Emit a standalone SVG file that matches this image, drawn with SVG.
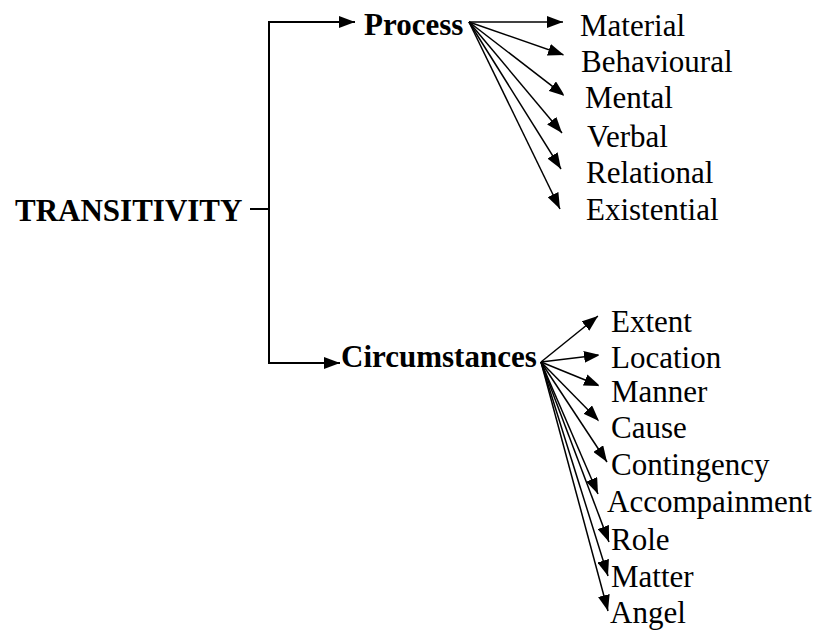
<svg xmlns="http://www.w3.org/2000/svg" width="818" height="635" viewBox="0 0 818 635">
  <style>
    .b { font-family: 'Liberation Serif', 'DejaVu Serif', serif; font-weight: bold; font-size: 31px; fill: #000; }
    .r { font-family: 'Liberation Serif', 'DejaVu Serif', serif; font-size: 31px; fill: #000; }
    .main { fill: none; stroke: #000; stroke-width: 2; }
    .fan { fill: none; stroke: #000; stroke-width: 1.5; marker-end: url(#ah); }
  </style>
  <defs>
    <marker id="ah" markerUnits="userSpaceOnUse" markerWidth="16" markerHeight="12" refX="16" refY="6" orient="auto">
      <path d="M0,0 L16,6 L0,12 z" fill="#000"/>
    </marker>
    <clipPath id="cP"><rect x="0" y="0" width="563.5" height="635"/></clipPath>
    <clipPath id="cC1"><rect x="0" y="0" width="598.5" height="635"/></clipPath>
    <clipPath id="cC2"><rect x="0" y="0" width="609.5" height="635"/></clipPath>
    <clipPath id="cC3"><rect x="0" y="0" width="600.5" height="635"/></clipPath>
    <clipPath id="cC4"><rect x="0" y="0" width="612.5" height="635"/></clipPath>
  </defs>

  <g id="connectors">
    <path class="main" d="M250,209 H269 M269,22 V363"/>
    <line class="main" x1="268" y1="22" x2="355" y2="22" marker-end="url(#ah)"/>
    <line class="main" x1="268" y1="363" x2="340" y2="363" marker-end="url(#ah)"/>
    <g clip-path="url(#cP)">
      <line class="fan" x1="469" y1="22" x2="563" y2="22"/>
      <line class="fan" x1="469" y1="22" x2="564" y2="55"/>
      <line class="fan" x1="469" y1="22" x2="565" y2="96"/>
      <line class="fan" x1="469" y1="22" x2="562" y2="133"/>
      <line class="fan" x1="469" y1="22" x2="561" y2="169"/>
      <line class="fan" x1="469" y1="22" x2="560" y2="209"/>
    </g>
    <g clip-path="url(#cC1)">
      <line class="fan" x1="541" y1="362" x2="598" y2="316"/>
      <line class="fan" x1="541" y1="362" x2="600" y2="355"/>
      <line class="fan" x1="541" y1="362" x2="600" y2="386"/>
      <line class="fan" x1="541" y1="362" x2="599" y2="421"/>
    </g>
    <g clip-path="url(#cC2)">
      <line class="fan" x1="541" y1="362" x2="607" y2="462"/>
    </g>
    <g clip-path="url(#cC3)">
      <line class="fan" x1="541" y1="362" x2="598" y2="494"/>
    </g>
    <g clip-path="url(#cC4)">
      <line class="fan" x1="541" y1="362" x2="609" y2="542"/>
      <line class="fan" x1="541" y1="362" x2="608" y2="576"/>
      <line class="fan" x1="541" y1="362" x2="608" y2="611"/>
    </g>
  </g>

  <g id="transitivity"><text class="b" x="15" y="221">TRANSITIVITY</text></g>
  <g id="process"><text class="b" x="364" y="35">Process</text></g>
  <g id="circumstances"><text class="b" x="341" y="367">Circumstances</text></g>

  <g id="material"><text class="r" x="580" y="36">Material</text></g>
  <g id="behavioural"><text class="r" x="581" y="72">Behavioural</text></g>
  <g id="mental"><text class="r" x="585" y="108">Mental</text></g>
  <g id="verbal"><text class="r" x="587" y="147">Verbal</text></g>
  <g id="relational"><text class="r" x="586" y="183">Relational</text></g>
  <g id="existential"><text class="r" x="586" y="220">Existential</text></g>

  <g id="extent"><text class="r" x="611" y="332">Extent</text></g>
  <g id="location"><text class="r" x="611" y="368">Location</text></g>
  <g id="manner"><text class="r" x="611" y="402">Manner</text></g>
  <g id="cause"><text class="r" x="611" y="438">Cause</text></g>
  <g id="contingency"><text class="r" x="611" y="475">Contingency</text></g>
  <g id="accompainment"><text class="r" x="607" y="512">Accompainment</text></g>
  <g id="role"><text class="r" x="611" y="550">Role</text></g>
  <g id="matter"><text class="r" x="611" y="587">Matter</text></g>
  <g id="angel"><text class="r" x="610" y="623">Angel</text></g>
</svg>
